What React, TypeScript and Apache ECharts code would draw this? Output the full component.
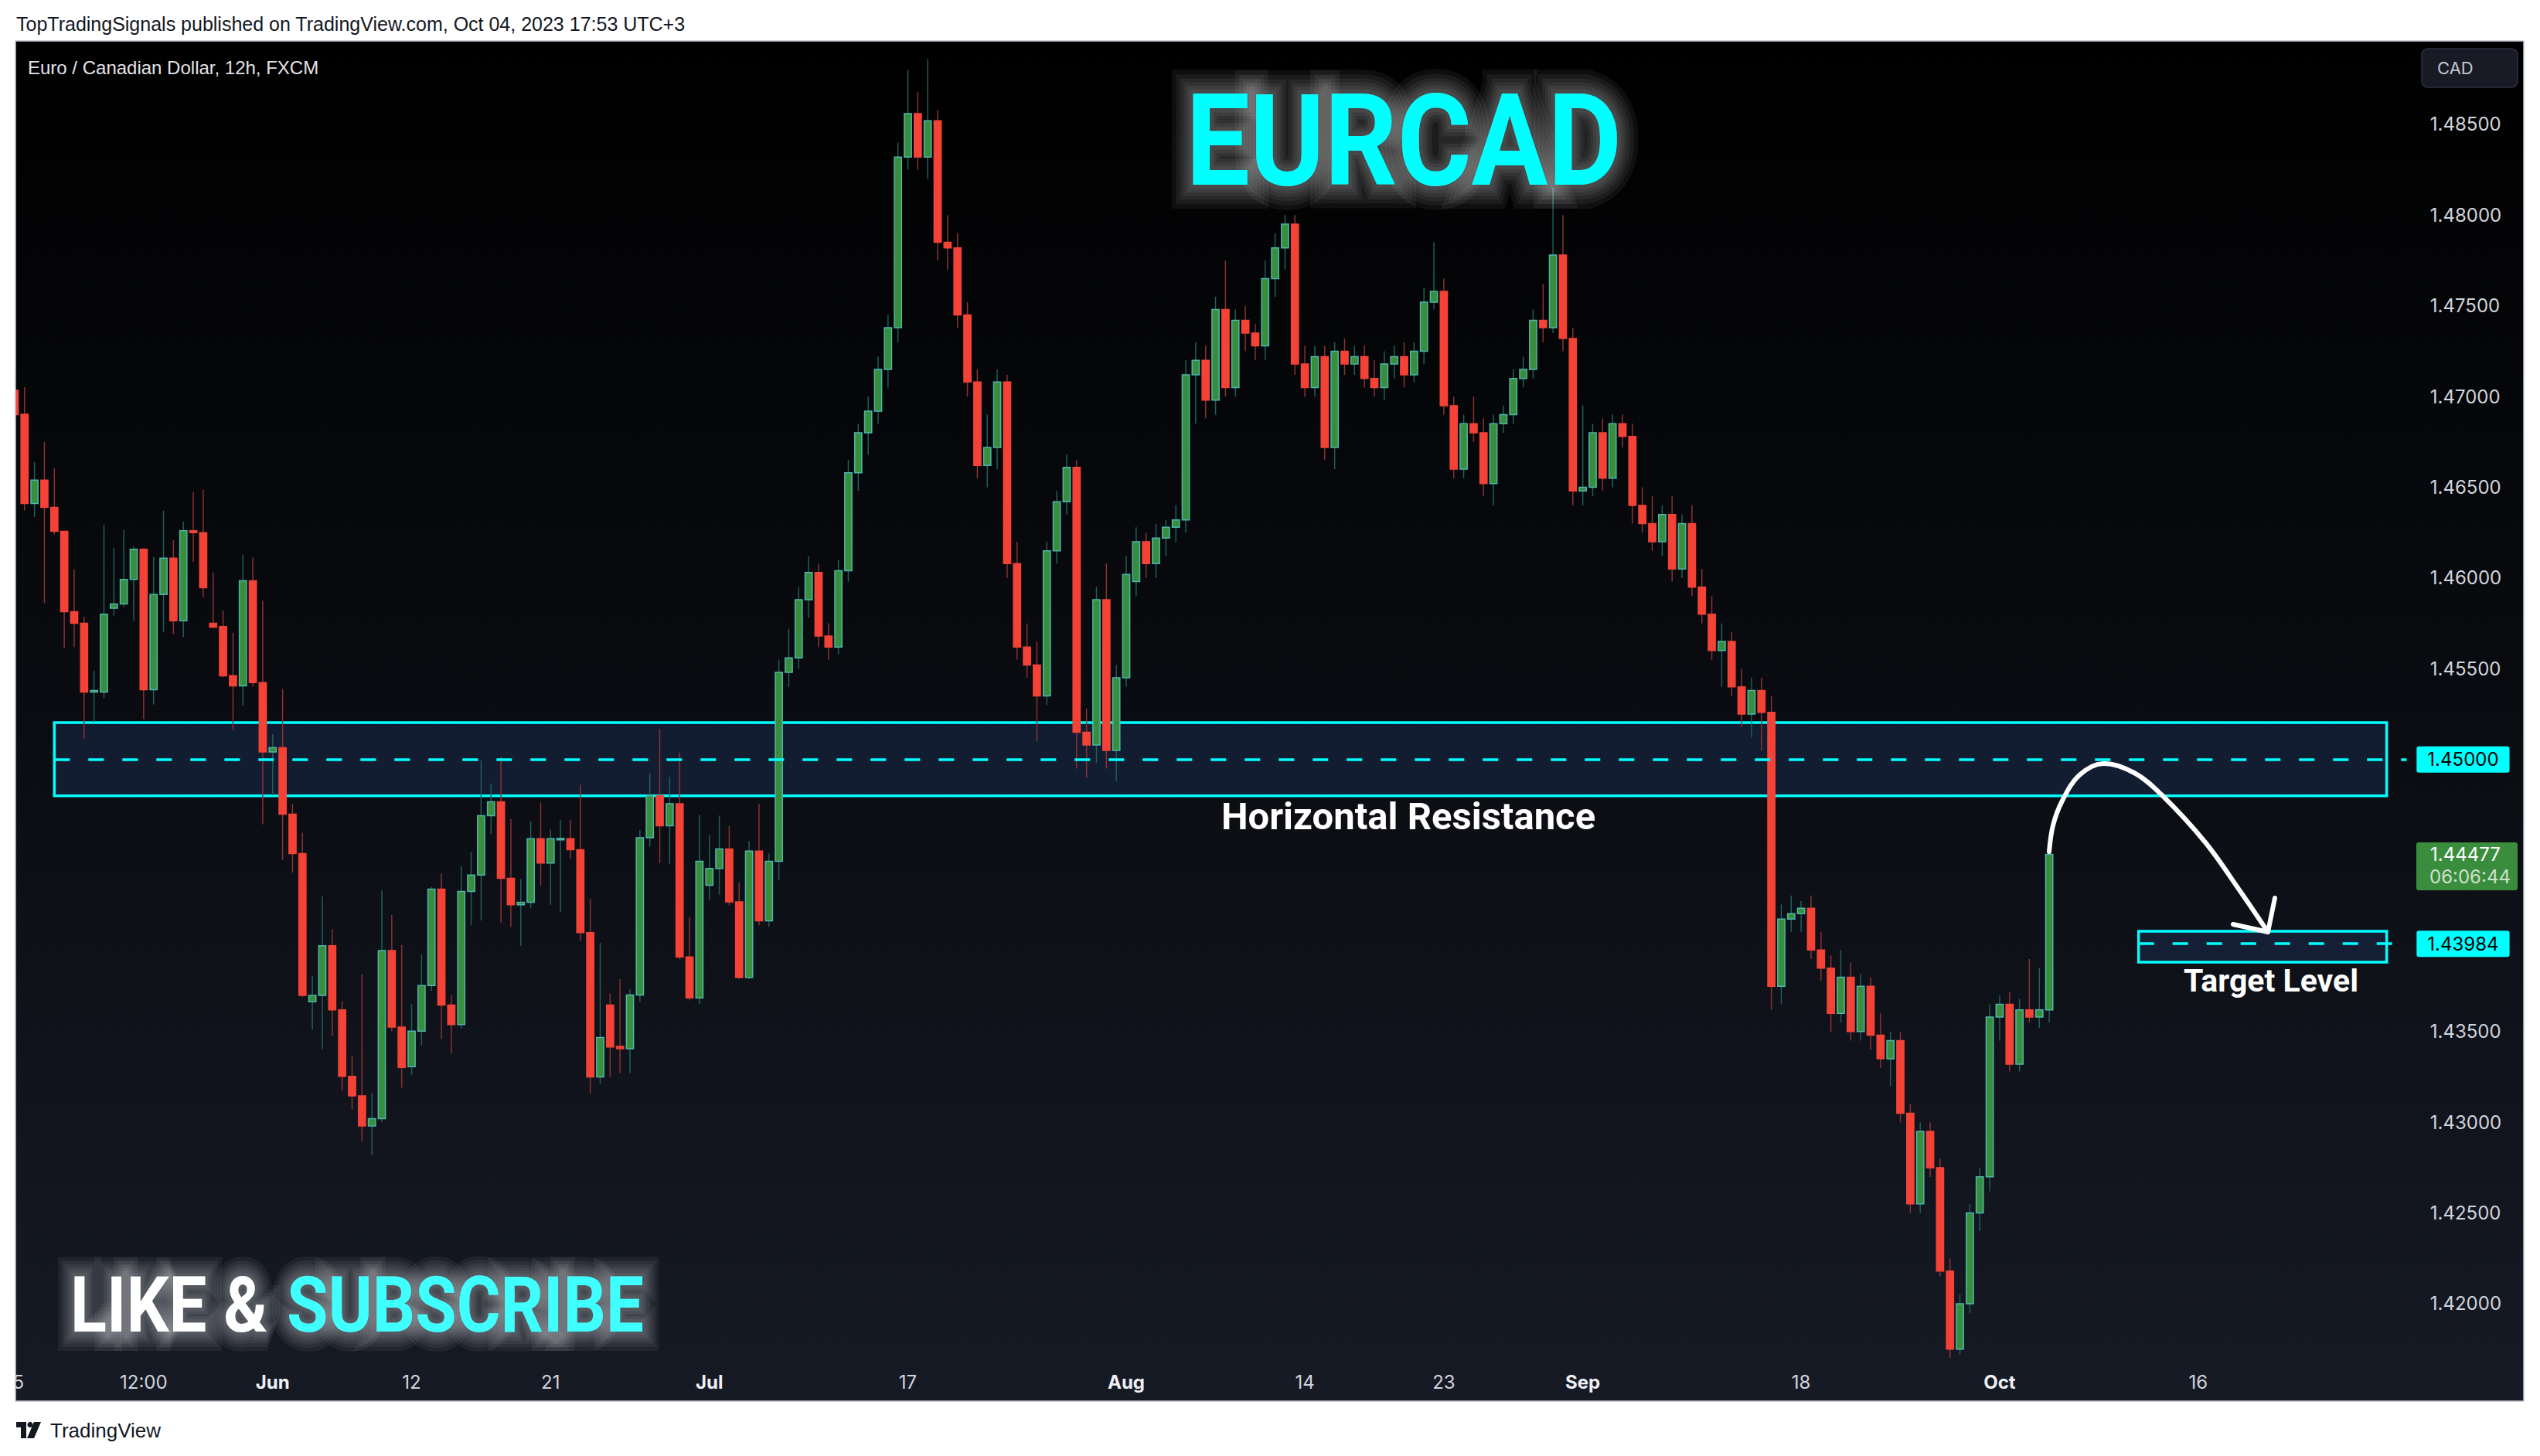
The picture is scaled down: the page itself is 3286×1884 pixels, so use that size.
import React, { useEffect, useRef } from 'react';
import * as echarts from 'echarts';

// [open, high, low, close] per 12h bar, starting 2023-05-15 00:00
const CANDLES: number[][] = [
  [1.47035, 1.4712, 1.4688, 1.469],
  [1.46903, 1.47052, 1.46372, 1.46411],
  [1.46411, 1.46639, 1.46337, 1.4654],
  [1.4654, 1.4675, 1.45861, 1.46389],
  [1.46389, 1.46605, 1.4624, 1.46257],
  [1.46257, 1.4626, 1.45614, 1.45814],
  [1.45814, 1.46048, 1.45618, 1.4575],
  [1.4575, 1.45786, 1.45115, 1.45371],
  [1.45371, 1.45488, 1.45206, 1.4538],
  [1.45371, 1.46294, 1.45338, 1.458],
  [1.45833, 1.46166, 1.45793, 1.45857],
  [1.45857, 1.46264, 1.4584, 1.45992],
  [1.45992, 1.46175, 1.45764, 1.46158],
  [1.46158, 1.46166, 1.45222, 1.45384],
  [1.45384, 1.46115, 1.45303, 1.45909],
  [1.45909, 1.46371, 1.45703, 1.46109],
  [1.46109, 1.46209, 1.45691, 1.45764],
  [1.45764, 1.46311, 1.45675, 1.46261],
  [1.46261, 1.46472, 1.46088, 1.4625],
  [1.4625, 1.46486, 1.45895, 1.45946],
  [1.4575, 1.4603, 1.45725, 1.45729],
  [1.45732, 1.45821, 1.45452, 1.45461],
  [1.45462, 1.45698, 1.45162, 1.45405],
  [1.45405, 1.46129, 1.45296, 1.45985],
  [1.45985, 1.46111, 1.45402, 1.45424],
  [1.45424, 1.45874, 1.44643, 1.45041],
  [1.45041, 1.45138, 1.44803, 1.45065],
  [1.45065, 1.45389, 1.44446, 1.44698],
  [1.44698, 1.44754, 1.44377, 1.44481],
  [1.44481, 1.44596, 1.4369, 1.43699],
  [1.43664, 1.43806, 1.43511, 1.43699],
  [1.43699, 1.44245, 1.43403, 1.43973],
  [1.43973, 1.44064, 1.43476, 1.4362],
  [1.4362, 1.43667, 1.43173, 1.43253],
  [1.43253, 1.43368, 1.43072, 1.43146],
  [1.43146, 1.43815, 1.42895, 1.4298],
  [1.4298, 1.43163, 1.42819, 1.4302],
  [1.4302, 1.44279, 1.43, 1.43947],
  [1.43947, 1.44142, 1.43502, 1.43525],
  [1.43525, 1.43977, 1.43191, 1.43302],
  [1.43307, 1.43652, 1.4326, 1.43502],
  [1.43502, 1.43925, 1.43424, 1.43754],
  [1.43754, 1.44298, 1.43725, 1.44285],
  [1.44285, 1.44373, 1.43459, 1.43646],
  [1.43646, 1.43699, 1.4338, 1.43539],
  [1.43539, 1.44411, 1.43516, 1.44272],
  [1.44272, 1.4449, 1.44088, 1.44363],
  [1.44363, 1.44994, 1.44112, 1.4469],
  [1.4469, 1.44867, 1.44589, 1.44766],
  [1.44766, 1.45015, 1.44098, 1.44345],
  [1.44345, 1.44672, 1.44078, 1.44199],
  [1.44199, 1.44342, 1.43972, 1.44213],
  [1.44213, 1.4466, 1.4418, 1.44563],
  [1.44563, 1.44763, 1.44304, 1.44429],
  [1.44429, 1.44613, 1.44199, 1.44563],
  [1.4456, 1.44667, 1.44159, 1.44565],
  [1.44563, 1.44667, 1.4445, 1.44502],
  [1.44502, 1.4486, 1.44001, 1.44046],
  [1.44046, 1.44232, 1.43159, 1.4325],
  [1.4325, 1.43989, 1.43212, 1.43467],
  [1.43646, 1.43711, 1.4325, 1.43415],
  [1.43418, 1.43789, 1.43271, 1.43406],
  [1.43406, 1.43733, 1.43272, 1.43702],
  [1.43702, 1.4461, 1.43664, 1.44568],
  [1.44568, 1.44925, 1.44519, 1.44799],
  [1.44799, 1.45168, 1.44429, 1.44634],
  [1.44634, 1.44904, 1.44425, 1.44756],
  [1.44756, 1.45039, 1.439, 1.43911],
  [1.43911, 1.4413, 1.43672, 1.43686],
  [1.43686, 1.44695, 1.43652, 1.44438],
  [1.44307, 1.44582, 1.44224, 1.44399],
  [1.44399, 1.4469, 1.44255, 1.44507],
  [1.44507, 1.44632, 1.44196, 1.44215],
  [1.44215, 1.44324, 1.4379, 1.43799],
  [1.43799, 1.44551, 1.4379, 1.44495],
  [1.44495, 1.44756, 1.44085, 1.44111],
  [1.44111, 1.44481, 1.44077, 1.44438],
  [1.44438, 1.4555, 1.44333, 1.4548],
  [1.4548, 1.4572, 1.454, 1.4556],
  [1.4556, 1.4595, 1.455, 1.4588],
  [1.4588, 1.4612, 1.4578, 1.4603],
  [1.4603, 1.4608, 1.4562, 1.4568],
  [1.4568, 1.4575, 1.4555, 1.4562],
  [1.4562, 1.461, 1.4558, 1.4604],
  [1.4604, 1.4665, 1.4598, 1.4658],
  [1.4658, 1.4685, 1.4648, 1.468],
  [1.468, 1.47, 1.4668, 1.4692],
  [1.4692, 1.4722, 1.4685, 1.4715],
  [1.4715, 1.4745, 1.4705, 1.4738],
  [1.4738, 1.484, 1.473, 1.4832],
  [1.4832, 1.488, 1.4825, 1.4856],
  [1.4856, 1.4868, 1.4825, 1.4832],
  [1.4832, 1.4886, 1.482, 1.4852],
  [1.4852, 1.4858, 1.4775, 1.4785],
  [1.4785, 1.48, 1.477, 1.4782],
  [1.4782, 1.479, 1.4738, 1.4745],
  [1.4745, 1.4752, 1.47, 1.4708],
  [1.4708, 1.4715, 1.4655, 1.4662],
  [1.4662, 1.469, 1.465, 1.4672],
  [1.4672, 1.4715, 1.466, 1.4708],
  [1.4708, 1.4712, 1.46, 1.4608],
  [1.4608, 1.462, 1.4555, 1.4562],
  [1.4562, 1.4575, 1.4545, 1.4552],
  [1.4552, 1.4565, 1.451, 1.4535],
  [1.4535, 1.462, 1.453, 1.4615],
  [1.4615, 1.4648, 1.4608, 1.4642],
  [1.4642, 1.4668, 1.4635, 1.4661],
  [1.4661, 1.4665, 1.4495, 1.4515],
  [1.4515, 1.4528, 1.449, 1.4508],
  [1.4508, 1.4595, 1.4498, 1.4588],
  [1.4588, 1.4608, 1.4495, 1.4505],
  [1.4505, 1.4552, 1.4488, 1.4545],
  [1.4545, 1.4612, 1.454, 1.4602],
  [1.4598, 1.4628, 1.459, 1.462],
  [1.462, 1.4625, 1.46, 1.4608],
  [1.4608, 1.463, 1.46, 1.4622],
  [1.4622, 1.4632, 1.4612, 1.4628],
  [1.4628, 1.464, 1.462, 1.4632],
  [1.4632, 1.472, 1.4625, 1.4712],
  [1.4712, 1.473, 1.4685, 1.472],
  [1.472, 1.4728, 1.4688, 1.4698],
  [1.4698, 1.4755, 1.469, 1.4748],
  [1.4748, 1.4775, 1.47, 1.4705],
  [1.4705, 1.4748, 1.47, 1.4742],
  [1.4742, 1.475, 1.4725, 1.4735],
  [1.4735, 1.474, 1.472, 1.4728],
  [1.4728, 1.4775, 1.472, 1.4765],
  [1.4765, 1.479, 1.4755, 1.4782],
  [1.4782, 1.48, 1.477, 1.4795],
  [1.4795, 1.48, 1.4712, 1.4718],
  [1.4718, 1.4728, 1.47, 1.4705],
  [1.4705, 1.4728, 1.47, 1.4722],
  [1.4722, 1.4728, 1.4665, 1.4672],
  [1.4672, 1.473, 1.466, 1.4725],
  [1.4725, 1.4732, 1.4712, 1.4718],
  [1.4718, 1.4728, 1.4712, 1.4722],
  [1.4722, 1.4728, 1.4705, 1.471],
  [1.471, 1.472, 1.47, 1.4705],
  [1.4705, 1.4725, 1.4698, 1.4718],
  [1.4718, 1.4728, 1.471, 1.4722],
  [1.4722, 1.473, 1.4705, 1.4712],
  [1.4712, 1.473, 1.4708, 1.4725],
  [1.4725, 1.476, 1.4718, 1.4752],
  [1.4752, 1.4785, 1.4748, 1.4758],
  [1.4758, 1.4765, 1.469, 1.4695],
  [1.4695, 1.47, 1.4655, 1.466],
  [1.466, 1.469, 1.4655, 1.4685],
  [1.4685, 1.47, 1.4675, 1.468],
  [1.468, 1.4688, 1.4645, 1.4652],
  [1.4652, 1.469, 1.464, 1.4685],
  [1.4685, 1.4695, 1.468, 1.469],
  [1.469, 1.4715, 1.4685, 1.471],
  [1.471, 1.4722, 1.4705, 1.4715],
  [1.4715, 1.4748, 1.471, 1.4742],
  [1.4742, 1.4762, 1.473, 1.4738],
  [1.4738, 1.4815, 1.4735, 1.4778],
  [1.4778, 1.48, 1.4725, 1.4732],
  [1.4732, 1.4738, 1.464, 1.4648],
  [1.4648, 1.4695, 1.464, 1.465],
  [1.465, 1.4685, 1.4645, 1.468],
  [1.468, 1.4688, 1.4648, 1.4655],
  [1.4655, 1.469, 1.465, 1.4685],
  [1.4685, 1.469, 1.4672, 1.4678],
  [1.4678, 1.4685, 1.463, 1.464],
  [1.464, 1.465, 1.4625, 1.463],
  [1.463, 1.4645, 1.4615, 1.462],
  [1.462, 1.464, 1.4612, 1.4635],
  [1.4635, 1.4645, 1.4598, 1.4605],
  [1.4605, 1.4635, 1.46, 1.463],
  [1.463, 1.464, 1.459, 1.4595],
  [1.4595, 1.4605, 1.4575, 1.458],
  [1.458, 1.459, 1.4555, 1.456],
  [1.456, 1.4575, 1.454, 1.4565],
  [1.4565, 1.457, 1.4535, 1.454],
  [1.454, 1.455, 1.4518, 1.4525],
  [1.4525, 1.4545, 1.4512, 1.4538],
  [1.4538, 1.4545, 1.4505, 1.4526],
  [1.4526, 1.4535, 1.4362, 1.4375],
  [1.4375, 1.442, 1.4365, 1.4412],
  [1.4412, 1.4425, 1.4405, 1.4415],
  [1.4415, 1.4422, 1.4405, 1.4418],
  [1.4418, 1.4425, 1.439, 1.4395],
  [1.4395, 1.4405, 1.4378, 1.4385],
  [1.4385, 1.4392, 1.435, 1.436],
  [1.436, 1.4395, 1.4355, 1.438],
  [1.438, 1.4388, 1.4345, 1.435],
  [1.435, 1.4382, 1.4345, 1.4375],
  [1.4375, 1.438, 1.434, 1.4348],
  [1.4348, 1.436, 1.433, 1.4335],
  [1.4335, 1.435, 1.432, 1.4345],
  [1.4345, 1.435, 1.43, 1.4305],
  [1.4305, 1.431, 1.425, 1.4255],
  [1.4255, 1.43, 1.425, 1.4295],
  [1.4295, 1.43, 1.427, 1.4275],
  [1.4275, 1.428, 1.4215, 1.4218],
  [1.4218, 1.4225, 1.417, 1.4175],
  [1.4175, 1.4205, 1.4172, 1.42],
  [1.42, 1.4255, 1.4195, 1.425],
  [1.425, 1.4275, 1.424, 1.427],
  [1.427, 1.4365, 1.4262, 1.4358],
  [1.4358, 1.437, 1.4345, 1.4365],
  [1.4365, 1.4372, 1.4328, 1.4332],
  [1.4332, 1.4368, 1.4328, 1.4362],
  [1.4362, 1.439, 1.4355, 1.4358],
  [1.4358, 1.4385, 1.4352, 1.4362],
  [1.4362, 1.445, 1.4355, 1.44477],
];

const PRICE_TICKS = [1.42, 1.425, 1.43, 1.435, 1.44, 1.445, 1.45, 1.455, 1.46, 1.465, 1.47, 1.475, 1.48, 1.485];
const TIME_TICKS: Record<string, string> = {
  '2023-05-15 00:00': '15',
  '2023-05-23 12:00': '12:00',
  '2023-06-01 00:00': 'Jun',
  '2023-06-12 00:00': '12',
  '2023-06-21 00:00': '21',
  '2023-07-03 00:00': 'Jul',
  '2023-07-17 00:00': '17',
  '2023-08-01 00:00': 'Aug',
  '2023-08-14 00:00': '14',
  '2023-08-23 00:00': '23',
  '2023-09-01 00:00': 'Sep',
  '2023-09-18 00:00': '18',
  '2023-10-02 00:00': 'Oct',
  '2023-10-16 00:00': '16',
};
const MONTH_TICKS = ['Jun', 'Jul', 'Aug', 'Sep', 'Oct'];

const RESISTANCE = 1.45;
const ZONE_TOP = 1.45203;
const ZONE_BOTTOM = 1.44799;
const TARGET = 1.43984;
const TARGET_TOP = 1.44053;
const TARGET_BOTTOM = 1.43883;
const LAST_PRICE = 1.44477;
const COUNTDOWN = '06:06:44';
const Y_MIN = 1.41689;
const Y_MAX = 1.4896;
const SLOTS = 242; // bars + empty space on the right
const ZONE_FROM = 4;
const TARGET_FROM = 214;
const BOX_TO = 239;

function buildCategories(): string[] {
  const out: string[] = [];
  const d = new Date(Date.UTC(2023, 4, 15));
  while (out.length < SLOTS) {
    const wd = d.getUTCDay();
    if (wd !== 0 && wd !== 6) {
      const s = d.toISOString().slice(0, 10);
      out.push(s + ' 00:00');
      out.push(s + ' 12:00');
    }
    d.setUTCDate(d.getUTCDate() + 1);
  }
  return out.slice(0, SLOTS);
}

const FONT = 'Inter, "Noto Sans", sans-serif';
const UP_FILL = '#388e3c';
const UP_BORDER = '#4db6ac';
const UP_WICK = '#1f5f58';
const DN_FILL = '#f44336';
const DN_BORDER = '#f44336';
const DN_WICK = '#8a3232';

// text with a soft halo built from stacked translucent strokes
function glowText(id: string, x: number, y: number, scaleX: number, text: string, fill: string, font: string, align: string, spread: number) {
  const widths = [1, 0.8, 0.62, 0.46, 0.32, 0.18].map((f) => f * spread);
  const base = { text, font, align, textAlign: align, verticalAlign: 'middle', textVerticalAlign: 'middle' };
  return {
    type: 'group', id, z: 50, x, y, scaleX, silent: true,
    children: [
      ...widths.map((w) => ({
        type: 'text', z: 49,
        style: { ...base, fill: 'rgba(255,255,255,0.055)', stroke: 'rgba(255,255,255,0.055)', lineWidth: w, lineJoin: 'round' },
      })),
      { type: 'text', z: 50, style: { ...base, fill } },
    ],
  };
}

function staticGraphics() {
  return [
    {
      type: 'rect', id: 'bg', z: -10, silent: true,
      shape: { x: 20, y: 53, width: 3245, height: 1760 },
      style: {
        fill: new echarts.graphic.LinearGradient(0, 0, 0, 1, [
          { offset: 0, color: '#000000' },
          { offset: 0.5, color: '#0a0c11' },
          { offset: 1, color: '#161a25' },
        ]),
      },
    },
    { type: 'rect', id: 'leftcover', z: 40, silent: true, shape: { x: 0, y: 40, width: 19.5, height: 1790 }, style: { fill: '#ffffff' } },
    {
      type: 'rect', id: 'frame', z: 45, silent: true,
      shape: { x: 20, y: 53, width: 3245, height: 1760 },
      style: { fill: 'none', stroke: '#c3c6ce', lineWidth: 1.5 },
    },
    {
      type: 'text', id: 'hdr', z: 50, x: 21, y: 31,
      style: { text: 'TopTradingSignals published on TradingView.com, Oct 04, 2023 17:53 UTC+3', fill: '#131722', font: '25px "Liberation Sans", Arial, sans-serif', verticalAlign: 'middle', textVerticalAlign: 'middle' },
    },
    {
      type: 'text', id: 'sym', z: 50, x: 36, y: 87,
      style: { text: 'Euro / Canadian Dollar, 12h, FXCM', fill: '#e1e3ea', font: '24px "Liberation Sans", Arial, sans-serif', verticalAlign: 'middle', textVerticalAlign: 'middle' },
    },
    {
      type: 'group', id: 'cad', z: 50,
      children: [
        { type: 'rect', z: 50, shape: { x: 3133, y: 63, width: 124, height: 50, r: 8 }, style: { fill: '#181b25', stroke: '#2e3240', lineWidth: 1.5 } },
        { type: 'text', z: 51, x: 3153, y: 88, style: { text: 'CAD', fill: '#c3c6ce', font: '22px ' + FONT, verticalAlign: 'middle', textVerticalAlign: 'middle' } },
      ],
    },
    glowText('title', 1816, 182, 0.89, 'EURCAD', '#00ffff', 'bold 165px Roboto, sans-serif', 'center', 62),
    glowText('like', 91, 1689, 0.86, 'LIKE &', '#ffffff', 'bold 101px Roboto, sans-serif', 'left', 50),
    glowText('sub', 371, 1689, 0.86, 'SUBSCRIBE', '#40ffff', 'bold 101px Roboto, sans-serif', 'left', 50),
    {
      type: 'text', id: 'hres', z: 50, x: 1822, y: 1056,
      style: { text: 'Horizontal Resistance', fill: '#ffffff', font: 'bold 49px Roboto, sans-serif', align: 'center', textAlign: 'center', verticalAlign: 'middle', textVerticalAlign: 'middle' },
    },
    {
      type: 'text', id: 'tgt', z: 50, x: 2938, y: 1269,
      style: { text: 'Target Level', fill: '#ffffff', font: 'bold 41px Roboto, sans-serif', align: 'center', textAlign: 'center', verticalAlign: 'middle', textVerticalAlign: 'middle' },
    },
    {
      type: 'polyline', id: 'arc', z: 50, silent: true,
      shape: {
        points: [[2651, 1102], [2656, 1068], [2668, 1036], [2690, 1003], [2721, 988], [2761, 1000], [2796, 1028], [2853, 1090], [2898, 1153], [2934, 1206]],
        smooth: 0.35,
      },
      style: { stroke: '#ffffff', lineWidth: 6, fill: 'none', lineCap: 'round' },
    },
    {
      type: 'polyline', id: 'head', z: 50, silent: true,
      shape: { points: [[2943, 1162], [2934, 1206], [2889, 1196]] },
      style: { stroke: '#ffffff', lineWidth: 6, fill: 'none', lineCap: 'round', lineJoin: 'round' },
    },
    {
      type: 'group', id: 'tvlogo', z: 50,
      children: [
        { type: 'rect', shape: { x: 21, y: 1840, width: 13, height: 7 }, style: { fill: '#131722' } },
        { type: 'rect', shape: { x: 27, y: 1840, width: 7, height: 21 }, style: { fill: '#131722' } },
        { type: 'circle', shape: { cx: 39, cy: 1843.5, r: 3.6 }, style: { fill: '#131722' } },
        { type: 'polygon', shape: { points: [[44, 1840], [53, 1840], [44, 1861], [35, 1861]] }, style: { fill: '#131722' } },
        { type: 'text', x: 65, y: 1851, style: { text: 'TradingView', fill: '#131722', font: '500 26px "Liberation Sans", Arial, sans-serif', verticalAlign: 'middle', textVerticalAlign: 'middle' } },
      ],
    },
  ];
}

function priceBox(y: number) {
  return {
    type: 'group', id: 'pricebox', z: 60, x: 3126, y: y - 15.5,
    children: [
      { type: 'rect', z: 60, shape: { x: 0, y: 0, width: 131, height: 62, r: 3 }, style: { fill: '#3b8d3e' } },
      { type: 'text', z: 61, x: 18, y: 16, style: { text: LAST_PRICE.toFixed(5), fill: '#ffffff', font: '24px ' + FONT, verticalAlign: 'middle', textVerticalAlign: 'middle' } },
      { type: 'text', z: 61, x: 17, y: 45, style: { text: COUNTDOWN, fill: '#cfe2cf', font: '24px ' + FONT, verticalAlign: 'middle', textVerticalAlign: 'middle' } },
    ],
  };
}

function buildOption(cats: string[]) {
  const data = CANDLES.map((c, i) => [i, c[0], c[3], c[2], c[1]]);
  return {
    animation: false,
    backgroundColor: '#ffffff',
    grid: { left: 12.5, top: 53, width: SLOTS * 12.84, height: 1707, containLabel: false },
    xAxis: {
      type: 'category',
      data: cats,
      boundaryGap: true,
      axisLine: { show: false },
      axisTick: { show: false },
      splitLine: { show: false },
      axisLabel: {
        interval: (_i: number, v: string) => v in TIME_TICKS,
        formatter: (v: string) => {
          const t = TIME_TICKS[v] || '';
          return MONTH_TICKS.includes(t) ? '{m|' + t + '}' : t;
        },
        color: '#d1d4dc',
        fontSize: 24,
        fontFamily: FONT,
        margin: 16,
        rich: { m: { color: '#eef0f5', fontSize: 24, fontWeight: 'bold', fontFamily: FONT } },
      },
    },
    yAxis: {
      type: 'value',
      position: 'right',
      min: Y_MIN,
      max: Y_MAX,
      scale: true,
      axisLine: { show: false },
      axisTick: { show: false },
      splitLine: { show: false },
      axisLabel: {
        customValues: PRICE_TICKS,
        formatter: (v: number) => v.toFixed(5),
        color: '#d1d4dc',
        fontSize: 24,
        fontFamily: FONT,
        margin: 24,
      },
    },
    series: [
      {
        type: 'line', name: 'zones', data: [], z: 1, silent: true,
        markArea: {
          silent: true,
          itemStyle: { color: 'rgba(28,48,88,0.45)', borderColor: '#00ffff', borderWidth: 3.5 },
          data: [
            [{ coord: [cats[ZONE_FROM], ZONE_TOP] }, { coord: [cats[BOX_TO], ZONE_BOTTOM] }],
            [{ coord: [cats[TARGET_FROM], TARGET_TOP] }, { coord: [cats[BOX_TO], TARGET_BOTTOM] }],
          ],
        },
      },
      {
        type: 'custom', name: 'EURCAD', z: 2, clip: false, data,
        encode: { x: 0, y: [1, 2, 3, 4] },
        renderItem: (_p: any, api: any) => {
          const i = api.value(0);
          const o = api.value(1), c = api.value(2), l = api.value(3), h = api.value(4);
          const po = api.coord([i, o]);
          const pc = api.coord([i, c]);
          const pl = api.coord([i, l]);
          const ph = api.coord([i, h]);
          const w = api.size([1, 0])[0] * 0.72;
          const up = c >= o;
          const x = po[0];
          const top = Math.min(po[1], pc[1]);
          const bh = Math.max(Math.abs(po[1] - pc[1]), 2);
          return {
            type: 'group',
            children: [
              { type: 'line', shape: { x1: x, y1: ph[1], x2: x, y2: pl[1] }, style: { stroke: up ? UP_WICK : DN_WICK, lineWidth: 1.5 } },
              { type: 'rect', shape: { x: x - w / 2, y: top, width: w, height: bh }, style: { fill: up ? UP_FILL : DN_FILL, stroke: up ? UP_BORDER : DN_BORDER, lineWidth: 1.5 } },
            ],
          };
        },
      },
      {
        type: 'line', name: 'levels', data: [], z: 3, silent: true,
        markLine: {
          silent: true,
          symbol: ['none', 'none'],
          lineStyle: { color: '#00ffff', width: 3.5, type: [20, 24] },
          label: {
            show: true, position: 'end', distance: 13, formatter: '{b}',
            color: '#000000', backgroundColor: '#00ffff', padding: [5, 14, 5, 14], borderRadius: 3,
            fontSize: 24, fontFamily: FONT,
          },
          data: [
            [{ name: RESISTANCE.toFixed(5), coord: [cats[ZONE_FROM], RESISTANCE] }, { coord: [cats[SLOTS - 1], RESISTANCE] }],
            [{ name: TARGET.toFixed(5), coord: [cats[TARGET_FROM], TARGET] }, { coord: [cats[SLOTS - 1], TARGET] }],
          ],
        },
      },
    ],
    graphic: { elements: staticGraphics() },
  };
}

export default function App() {
  const ref = useRef<HTMLDivElement>(null);
  useEffect(() => {
    if (!ref.current) return;
    const chart = echarts.init(ref.current, null, { renderer: 'svg' });
    const cats = buildCategories();
    chart.setOption(buildOption(cats) as any);
    const y = chart.convertToPixel({ yAxisIndex: 0 }, LAST_PRICE) as number;
    chart.setOption({ graphic: { elements: [...staticGraphics(), priceBox(y)] } } as any);
    return () => chart.dispose();
  }, []);
  return <div ref={ref} style={{ position: 'fixed', left: 0, top: 0, width: 3286, height: 1884, background: '#ffffff' }} />;
}
